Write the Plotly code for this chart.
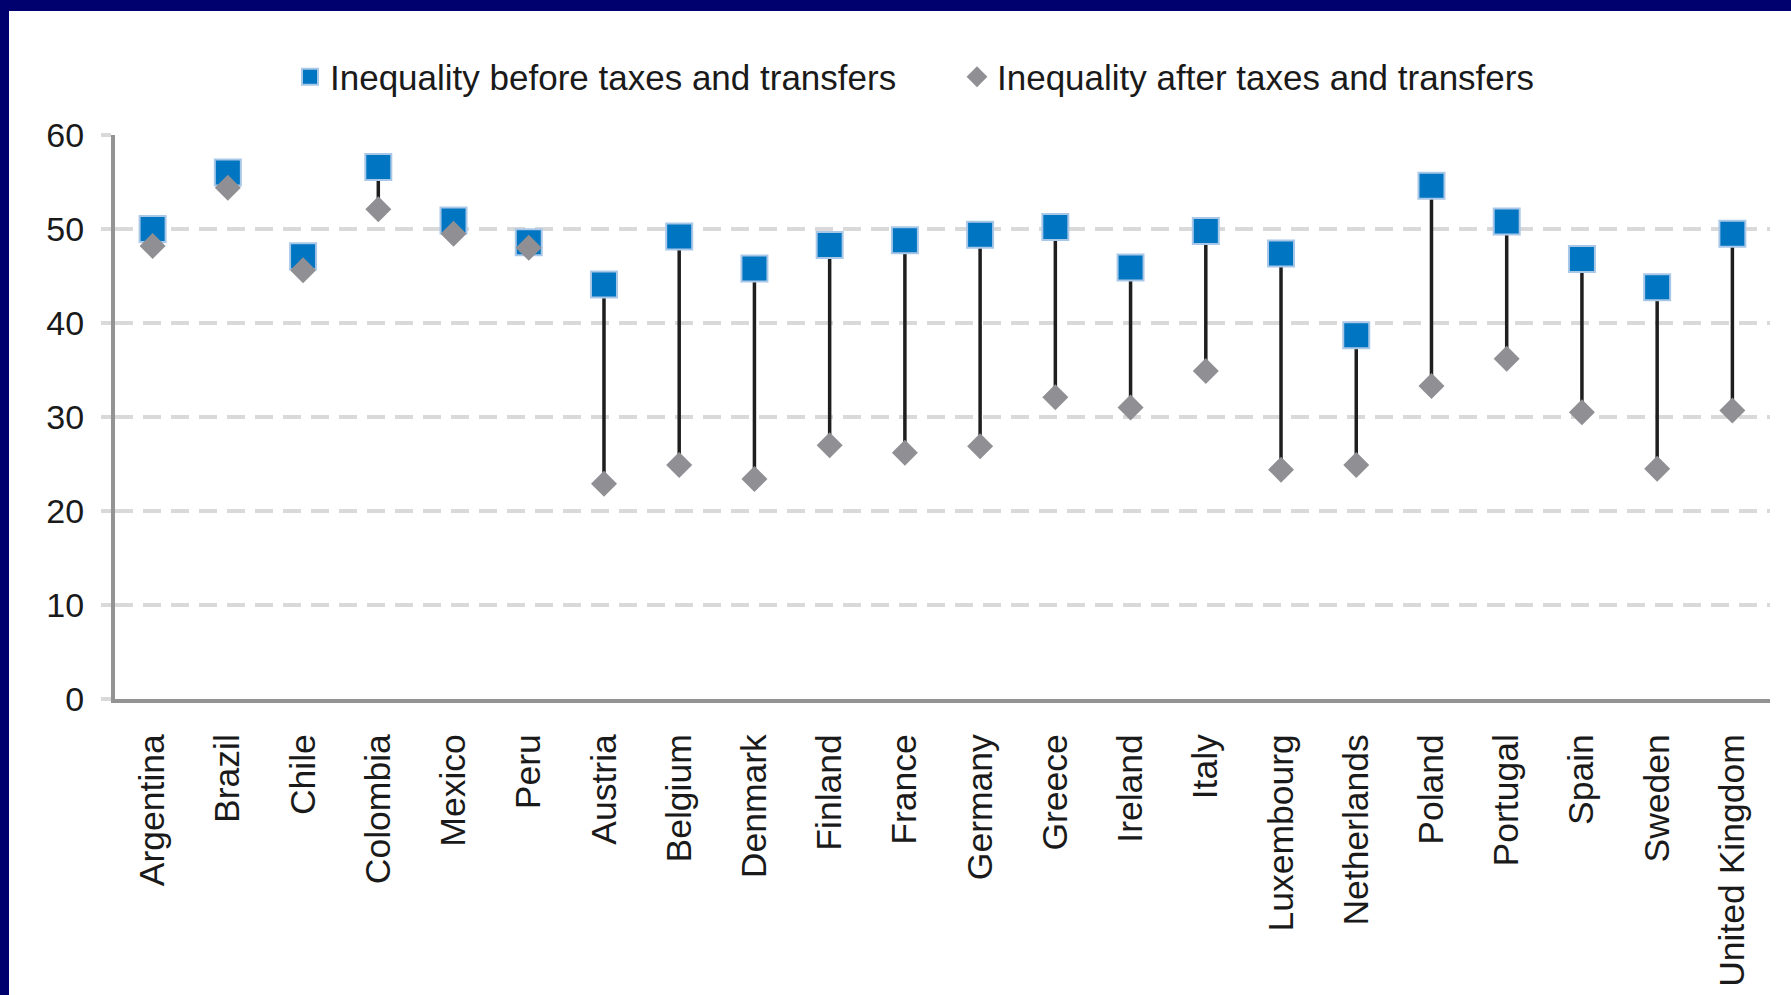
import plotly.graph_objects as go

countries = ["Argentina", "Brazil", "Chile", "Colombia", "Mexico", "Peru",
             "Austria", "Belgium", "Denmark", "Finland", "France", "Germany",
             "Greece", "Ireland", "Italy", "Luxembourg", "Netherlands", "Poland",
             "Portugal", "Spain", "Sweden", "United Kingdom"]
before = [50.0, 56.0, 47.1, 56.6, 50.9, 48.6,
          44.1, 49.2, 45.8, 48.3, 48.8, 49.4,
          50.2, 45.9, 49.8, 47.4, 38.7, 54.6,
          50.8, 46.8, 43.8, 49.5]
after = [48.2, 54.4, 45.6, 52.1, 49.5, 48.0,
         22.9, 24.9, 23.4, 27.0, 26.2, 26.9,
         32.1, 31.0, 34.9, 24.4, 24.9, 33.3,
         36.2, 30.5, 24.5, 30.7]
y_ticks = [0, 10, 20, 30, 40, 50, 60]

W, H = 1791, 995
L, R, T, B = 115, 21, 135, 296
PW, PH = W - L - R, H - T - B
NAVY = "#00006e"
FONT = "Liberation Sans, Arial, sans-serif"

# connector lines
lx, ly = [], []
for c, b, a in zip(countries, before, after):
    lx += [c, c, None]
    ly += [b, a, None]

fig = go.Figure()
fig.add_trace(go.Scatter(x=lx, y=ly, mode="lines",
                         line=dict(color="#1e1e1e", width=3.5),
                         showlegend=False, hoverinfo="skip"))
fig.add_trace(go.Scatter(x=countries, y=before, mode="markers",
                         name="Inequality before taxes and transfers",
                         marker=dict(symbol="square", size=26, color="#0075c2",
                                     line=dict(color="#a9c8e8", width=2))))
fig.add_trace(go.Scatter(x=countries, y=after, mode="markers",
                         name="Inequality after taxes and transfers",
                         marker=dict(symbol="diamond", size=20, color="#8f8f94",
                                     line=dict(width=0))))


def px_x(p):
    return (p - L) / PW


def px_y(p):
    return (H - B - p) / PH


shapes = [
    dict(type="rect", xref="paper", yref="paper", x0=px_x(0), x1=px_x(9),
         y0=px_y(H), y1=px_y(0), fillcolor=NAVY, line=dict(width=0), layer="above"),
    dict(type="rect", xref="paper", yref="paper", x0=px_x(0), x1=px_x(W),
         y0=px_y(11), y1=px_y(0), fillcolor=NAVY, line=dict(width=0), layer="above"),
]

fig.update_layout(
    width=W, height=H,
    margin=dict(l=L, r=R, t=T, b=B, pad=0, autoexpand=False),
    paper_bgcolor="white", plot_bgcolor="white",
    font=dict(family=FONT, size=34, color="#1a1a1a"),
    shapes=shapes,
    legend=dict(orientation="h", x=px_x(290), xanchor="left",
                y=px_y(77), yanchor="middle",
                font=dict(size=35, color="#1a1a1a"),
                entrywidth=622, entrywidthmode="pixels",
                bgcolor="rgba(0,0,0,0)"),
    xaxis=dict(type="category", categoryorder="array", categoryarray=countries,
               automargin=False,
               showline=True, linecolor="#939393", linewidth=4,
               showgrid=False, ticks="", tickangle=-90,
               ticklabelstandoff=17, tickfont=dict(size=35.5),
               range=[-0.5, len(countries) - 0.5]),
    yaxis=dict(range=[0, 60], tickvals=y_ticks, ticktext=[str(v) for v in y_ticks],
               automargin=False,
               showline=True, linecolor="#939393", linewidth=4,
               showgrid=True, gridcolor="#d9d9d9", gridwidth=4, griddash="18px,10px",
               zeroline=False, ticks="outside", ticklen=10, tickcolor="#d9d9d9",
               tickwidth=4, ticklabelstandoff=10, tickfont=dict(size=34)),
)

fig.write_html("out.html", config={"displayModeBar": False},
               post_script="document.body.style.margin='0px';document.body.style.overflow='hidden';")
